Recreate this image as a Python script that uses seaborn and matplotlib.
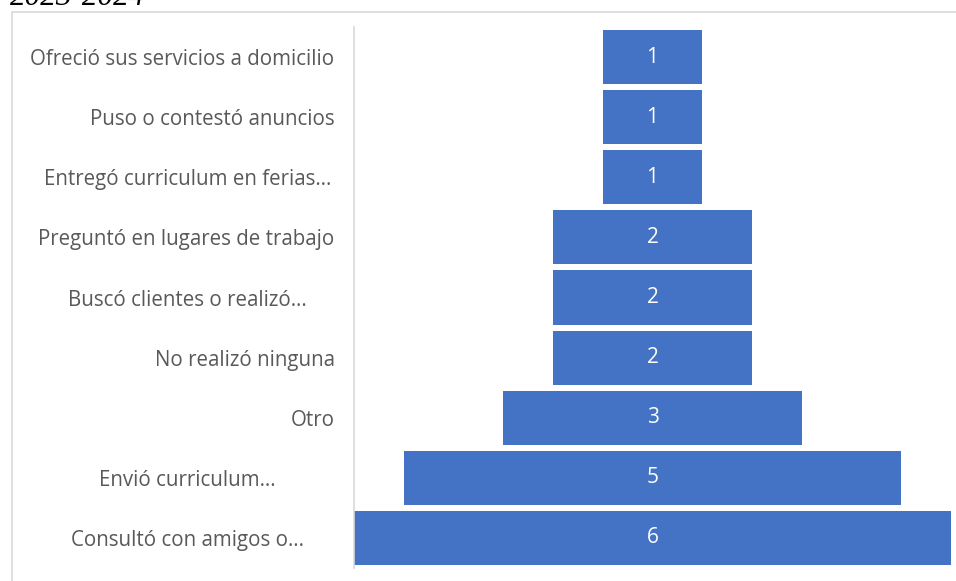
import matplotlib
matplotlib.use("Agg")
import matplotlib.pyplot as plt
import seaborn as sns
import pandas as pd
from matplotlib.lines import Line2D
from matplotlib.transforms import ScaledTranslation

# Data (top to bottom)
categories = [
    "Ofreció sus servicios a domicilio",
    "Puso o contestó anuncios",
    "Entregó curriculum en ferias…",
    "Preguntó en lugares de trabajo",
    "Buscó clientes o realizó…",
    "No realizó ninguna",
    "Otro",
    "Envió curriculum…",
    "Consultó con amigos o…",
]
values = [1, 1, 1, 2, 2, 2, 3, 5, 6]
header_text = "2023-2024"

bar_color = "#4472C4"
label_color = "#595959"

sns.set_theme(style="white")
plt.rcParams["font.family"] = ["Open Sans", "DejaVu Sans"]

df = pd.DataFrame({"category": categories, "value": values})

fig = plt.figure(figsize=(9.56, 5.81), dpi=100)
ax = fig.add_axes([354 / 956, 1 - 568 / 581, 597 / 956, 541 / 581])

sns.barplot(data=df, x="value", y="category", orient="h", color=bar_color,
            saturation=1, width=0.9, ax=ax)

# Centre each bar to build the funnel shape
for patch, v in zip(ax.patches, values):
    patch.set_x(-v / 2)
    patch.set_edgecolor("none")
    y = patch.get_y() + patch.get_height() / 2
    ax.text(0, y, str(v), ha="center", va="center", color="white", fontsize=15)

vmax = max(values)
ax.set_xlim(-vmax / 2, vmax / 2)
ax.set_ylim(len(values) - 0.5, -0.5)
ax.set_xlabel("")
ax.set_ylabel("")
ax.set_xticks([])
ax.tick_params(axis="y", length=0, pad=14, labelsize=14.8, labelcolor=label_color)

# Truncated labels are centred in the label area, like Excel does
for lab in ax.get_yticklabels():
    if lab.get_text().endswith("…"):
        lab.set_horizontalalignment("center")
        lab.set_transform(lab.get_transform()
                          + ScaledTranslation(-147 / 100, 0, fig.dpi_scale_trans))

for side in ["top", "right", "bottom"]:
    ax.spines[side].set_visible(False)
ax.spines["left"].set_color("#d9d9d9")
ax.spines["left"].set_linewidth(1.2)

# Chart area border (cropped on the right and bottom)
fig.add_artist(Line2D([12 / 956, 1], [1 - 12 / 581, 1 - 12 / 581],
                      transform=fig.transFigure, color="#d9d9d9", lw=1.2))
fig.add_artist(Line2D([12 / 956, 12 / 956], [0, 1 - 12 / 581],
                      transform=fig.transFigure, color="#d9d9d9", lw=1.2))

# Partially visible heading above the chart
fig.text(10 / 956, 1 - 5 / 581, header_text, ha="left", va="baseline",
         fontsize=22.5, style="italic", family=["Liberation Serif", "DejaVu Serif"],
         color="black")

fig.savefig("out.png", dpi=100)
